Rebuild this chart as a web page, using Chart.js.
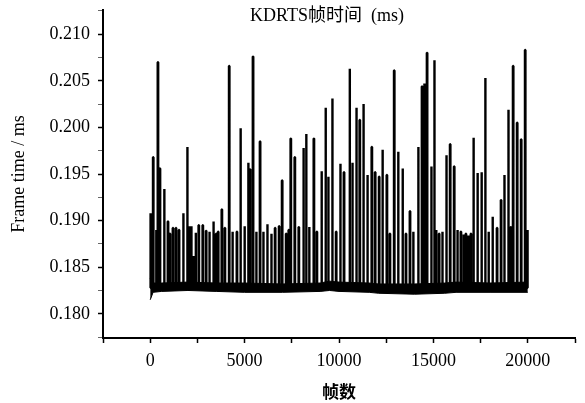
<!DOCTYPE html>
<html>
<head>
<meta charset="utf-8">
<script src="https://cdn.jsdelivr.net/npm/chart.js@4.4.1/dist/chart.umd.min.js"></script>
<style>
  html, body { margin: 0; padding: 0; background: #fff; }
  #wrap { width: 585px; height: 403px; position: relative; }
</style>
</head>
<body>
<div id="wrap"><canvas id="frameChart"></canvas></div>
<script>
// frame index of each spike and its peak frame time (ms)
const spikeFrames = [
  20, 160, 320, 410, 516, 746, 942, 1048, 1207, 1367, 1527, 1756, 1968, 2074, 2181, 2287,
  2413, 2573, 2786, 2963, 3140, 3353, 3495, 3601, 3796, 3956, 4185, 4362, 4595,
  4787, 5000, 5197, 5290, 5447, 5622, 5819, 5995, 6207, 6420, 6617, 6830, 6989, 7202, 7340,
  7447, 7660, 7872, 8122, 8266, 8425, 8670, 8829, 9080, 9293, 9436, 9649,
  9850, 10074, 10266, 10569, 10713, 10925, 11101, 11298, 11510, 11739, 11915, 12127, 12308,
  12537, 12697, 12925, 13138, 13372, 13547, 13760, 13936, 14202, 14399, 14521, 14665, 14893, 15053,
  15150, 15303, 15478, 15691, 15888, 16101, 16276, 16457, 16600, 16723, 16850, 16989, 17127, 17340,
  17553, 17750, 17926, 18138, 18372, 18585, 18761, 18974, 19100, 19224, 19437, 19649, 19862, 19980
];
const spikeValues = [
  0.1908, 0.1968, 0.1890, 0.2070, 0.1956, 0.1934, 0.1899, 0.1886, 0.1892, 0.1892, 0.1890, 0.1908, 0.1979, 0.1894, 0.1894, 0.1862,
  0.1887, 0.1895, 0.1895, 0.1889, 0.1888, 0.1899, 0.1886, 0.1888, 0.1912, 0.1892, 0.2066, 0.1888, 0.1888,
  0.1999, 0.1894, 0.1962, 0.1955, 0.2076, 0.1888, 0.1985, 0.1888, 0.1896, 0.1886, 0.1892, 0.1894, 0.1943, 0.1886, 0.1890,
  0.1988, 0.1968, 0.1893, 0.1978, 0.1993, 0.1893, 0.1988, 0.1888, 0.1953, 0.2021, 0.1947, 0.2031,
  0.1888, 0.1961, 0.1952, 0.2063, 0.1962, 0.2021, 0.2008, 0.2025, 0.1949, 0.1979, 0.1952, 0.1947, 0.1976,
  0.1949, 0.1886, 0.2061, 0.1974, 0.1956, 0.1886, 0.1910, 0.1888, 0.1979, 0.2044, 0.2047, 0.2080, 0.1958, 0.2072,
  0.1890, 0.1886, 0.1888, 0.1970, 0.1982, 0.1958, 0.1890, 0.1888, 0.1885, 0.1886, 0.1884, 0.1886, 0.1989, 0.1951,
  0.1952, 0.2053, 0.1888, 0.1904, 0.1892, 0.1922, 0.1949, 0.2019, 0.1893, 0.2066, 0.2005, 0.1987, 0.2083, 0.1890
];

// steady-state band (lower / upper edge of the frame-time noise)
const baseFrames = [0, 60, 150, 600, 2000, 3500, 5000, 7000, 9000, 9500, 10000, 11600, 12100, 14000, 15600, 16200, 18000, 20000];
const baseLow =    [0.1815, 0.1818, 0.1823, 0.1824, 0.1825, 0.1824, 0.1823, 0.1823, 0.1824, 0.1825, 0.1824, 0.1823, 0.1822, 0.1821, 0.1822, 0.1823, 0.1823, 0.1823];
const baseHigh =   [0.1838, 0.1834, 0.1833, 0.1833, 0.1834, 0.1833, 0.1833, 0.1832, 0.1833, 0.1835, 0.1834, 0.1833, 0.1832, 0.1832, 0.1833, 0.1834, 0.1833, 0.1834];
const BASE_LEVEL = 0.1828;

const yTickValues = [0.180, 0.185, 0.190, 0.195, 0.200, 0.205, 0.210];
const yMinorValues = [0.1775, 0.1825, 0.1875, 0.1925, 0.1975, 0.2025, 0.2075, 0.2125];
const xTickValues = [-2500, 0, 2500, 5000, 7500, 10000, 12500, 15000, 17500, 20000, 22500];
const xLabelValues = [0, 5000, 10000, 15000, 20000];

const SERIF = "'Liberation Serif', 'Times New Roman', serif";

function buildSpikeLine() {
  const pts = [{ x: baseFrames[0], y: BASE_LEVEL }];
  spikeFrames.forEach((f, i) => {
    pts.push({ x: f - 12, y: BASE_LEVEL });
    pts.push({ x: f - 12, y: spikeValues[i] });
    pts.push({ x: f + 12, y: spikeValues[i] });
    pts.push({ x: f + 12, y: BASE_LEVEL });
  });
  pts.push({ x: baseFrames[baseFrames.length - 1], y: BASE_LEVEL });
  return pts;
}

const isMajorY = v => yTickValues.some(t => Math.abs(t - v) < 1e-7);

// no extra label padding, so the plot box keeps its fixed edges
function noPadding(scale) {
  scale.paddingTop = 0;
  scale.paddingBottom = 0;
  scale.paddingLeft = 0;
  scale.paddingRight = 0;
}

const titlePlugin = {
  id: 'plotTitle',
  afterDraw(chart) {
    const ctx = chart.ctx;
    ctx.save();
    ctx.fillStyle = '#000';
    ctx.font = "18px " + SERIF + ", 'Noto Sans CJK SC'";
    ctx.textAlign = 'center';
    ctx.textBaseline = 'middle';
    ctx.fillText('KDRTS帧时间  (ms)', 327, 16);
    ctx.restore();
  }
};

new Chart(document.getElementById('frameChart'), {
  type: 'line',
  data: {
    datasets: [
      {
        data: baseFrames.map((f, i) => ({ x: f, y: baseLow[i] })),
        borderColor: '#000', borderWidth: 1, pointRadius: 0, fill: false
      },
      {
        data: baseFrames.map((f, i) => ({ x: f, y: baseHigh[i] })),
        borderColor: '#000', borderWidth: 1, pointRadius: 0,
        fill: '-1', backgroundColor: '#000'
      },
      {
        data: buildSpikeLine(),
        borderColor: '#000', borderWidth: 2.4, pointRadius: 0,
        borderJoinStyle: 'bevel', fill: false
      }
    ]
  },
  plugins: [titlePlugin],
  options: {
    responsive: true,
    maintainAspectRatio: false,
    animation: false,
    layout: { padding: { top: 10, right: 10, left: 0, bottom: 0 } },
    plugins: { legend: { display: false }, tooltip: { enabled: false } },
    elements: { line: { tension: 0 } },
    scales: {
      x: {
        type: 'linear',
        min: -2500, max: 22500,
        afterFit(scale) { scale.height = 65; noPadding(scale); },
        afterBuildTicks(scale) { scale.ticks = xTickValues.map(v => ({ value: v })); },
        ticks: {
          autoSkip: false, maxRotation: 0, padding: 7,
          color: '#000', font: { family: SERIF, size: 18 },
          callback: v => xLabelValues.includes(v) ? String(v) : ''
        },
        grid: { drawOnChartArea: false, drawTicks: true, tickLength: 5, tickColor: '#000', tickWidth: 1.5 },
        border: { display: true, color: '#000', width: 2 },
        title: {
          display: true, text: '帧数', color: '#000',
          font: { family: "'Noto Sans CJK SC'", size: 17, weight: 'bold' },
          padding: { top: 1, bottom: 1 }
        }
      },
      y: {
        min: 0.1774, max: 0.2126,
        afterFit(scale) { scale.width = 103; noPadding(scale); },
        afterBuildTicks(scale) {
          scale.ticks = yTickValues.concat(yMinorValues).sort((a, b) => a - b).map(v => ({ value: v }));
        },
        ticks: {
          autoSkip: false, padding: 8,
          color: '#000', font: { family: SERIF, size: 18 },
          callback: v => isMajorY(v) ? v.toFixed(3) : ''
        },
        grid: {
          drawOnChartArea: false, drawTicks: true, tickLength: 5, tickColor: '#000',
          tickWidth: c => (c.tick && isMajorY(c.tick.value)) ? 1.5 : 0.6
        },
        border: { display: true, color: '#000', width: 2 },
        title: {
          display: true, text: 'Frame time / ms', color: '#000',
          font: { family: SERIF, size: 18 },
          padding: { top: 8, bottom: 0 }
        }
      }
    }
  }
});
</script>
</body>
</html>
